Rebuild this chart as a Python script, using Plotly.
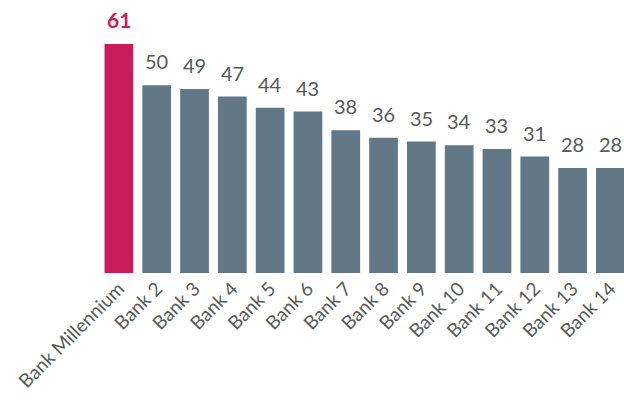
import plotly.graph_objects as go

categories = ["Bank Millennium", "Bank 2", "Bank 3", "Bank 4", "Bank 5", "Bank 6", "Bank 7",
              "Bank 8", "Bank 9", "Bank 10", "Bank 11", "Bank 12", "Bank 13", "Bank 14"]
values = [61, 50, 49, 47, 44, 43, 38, 36, 35, 34, 33, 31, 28, 28]

PINK = "#C81D5A"
GRAY = "#637887"
TEXT = "#595959"
FONT = "Lato, sans-serif"

colors = [PINK] + [GRAY] * (len(values) - 1)
xs = list(range(len(categories)))

fig = go.Figure(go.Bar(
    x=xs,
    y=values,
    marker=dict(color=colors, line=dict(width=0)),
    cliponaxis=False,
    hoverinfo="skip",
))

for i, v in enumerate(values):
    fig.add_annotation(
        x=xs[i], y=v, text=(f"<b>{v}</b>" if i == 0 else str(v)),
        showarrow=False, yanchor="bottom", xanchor="center", yshift=10,
        font=dict(size=21 if i == 0 else 20, color=PINK if i == 0 else TEXT, family=FONT),
    )

fig.update_layout(
    width=624, height=401,
    margin=dict(l=100, r=0, t=44, b=128),
    paper_bgcolor="white", plot_bgcolor="white",
    bargap=0.24,
    showlegend=False,
    xaxis=dict(
        tickmode="array", tickvals=xs, ticktext=categories,
        tickangle=-45, range=[-0.5, 13.36], automargin=False,
        tickfont=dict(size=19, color=TEXT, family=FONT),
        showgrid=False, zeroline=False, showline=False, ticks="",
    ),
    yaxis=dict(range=[0, 61], visible=False, automargin=False),
)

fig.write_html(
    "out.html",
    config={"displayModeBar": False, "staticPlot": True},
    post_script="document.body.style.margin='0';document.body.style.overflow='hidden';",
)
